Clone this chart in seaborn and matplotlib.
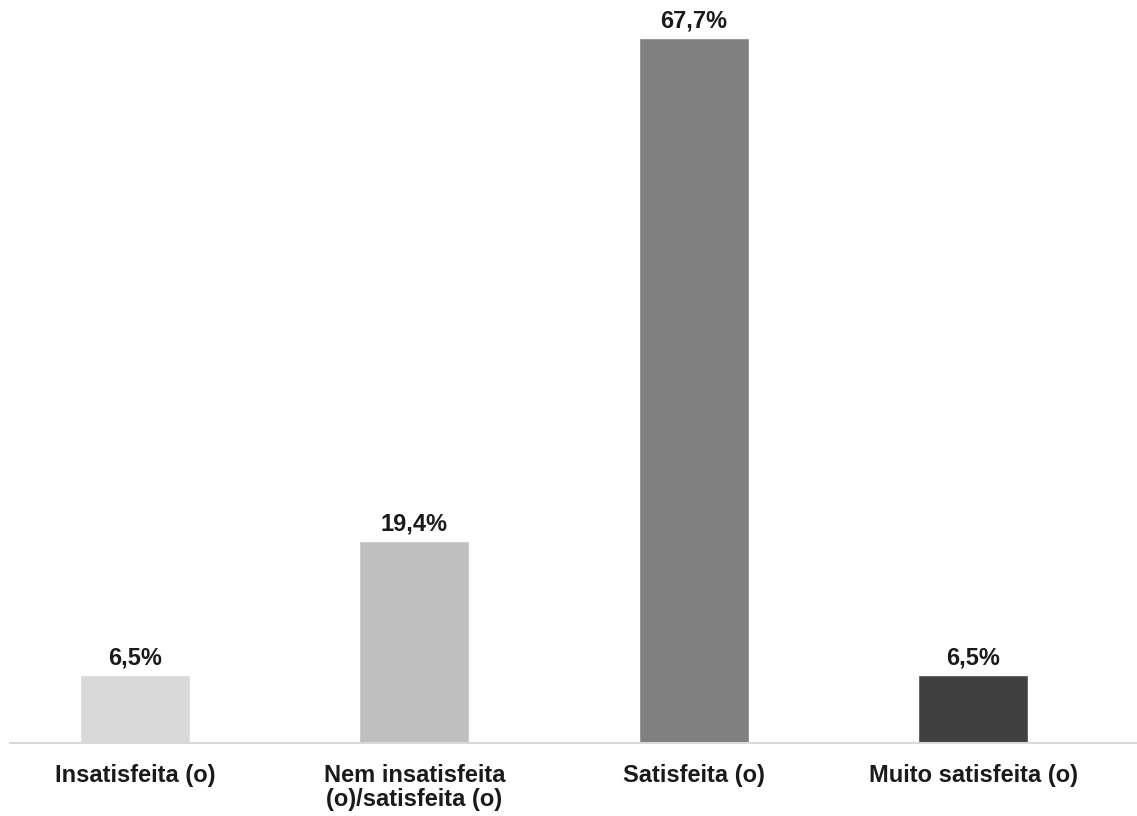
import pandas as pd
import matplotlib
matplotlib.use("Agg")
import matplotlib.pyplot as plt
import seaborn as sns

categories = ["Insatisfeita (o)", "Nem insatisfeita\n(o)/satisfeita (o)", "Satisfeita (o)", "Muito satisfeita (o)"]
values = [6.5, 19.4, 67.7, 6.5]
labels = ["6,5%", "19,4%", "67,7%", "6,5%"]
colors = ["#D9D9D9", "#BFBFBF", "#808080", "#404040"]

df = pd.DataFrame({"cat": categories, "val": values})

sns.set_style("white")
plt.rcParams['font.family'] = ['Liberation Sans', 'DejaVu Sans']

fig = plt.figure(figsize=(11.37, 8.16), dpi=100)
ax = fig.add_axes([10 / 1137, 73 / 816, 1127 / 1137, 729 / 816])

sns.barplot(x="cat", y="val", data=df, hue="cat", palette=colors, legend=False,
            width=0.394, saturation=1, ax=ax)

for i, (v, lab) in enumerate(zip(values, labels)):
    ax.annotate(lab, (i, v), xytext=(0, 4), textcoords="offset points",
                ha="center", va="bottom", fontsize=17, fontweight="bold", color="#1a1a1a")

ax.set_xlim(-0.4475, 3.587)
ax.set_ylim(0, 70)
ax.set_yticks([])
ax.set_xlabel("")
ax.set_ylabel("")
for s in ["top", "right", "left"]:
    ax.spines[s].set_visible(False)
ax.spines["bottom"].set_color("#D9D9D9")
ax.spines["bottom"].set_linewidth(1.5)
ax.tick_params(axis="x", length=0, pad=15)
for t in ax.get_xticklabels():
    t.set_fontsize(17)
    t.set_fontweight("bold")
    t.set_color("#1a1a1a")
    t.set_linespacing(1.05)

plt.savefig("out.png", dpi=100)
